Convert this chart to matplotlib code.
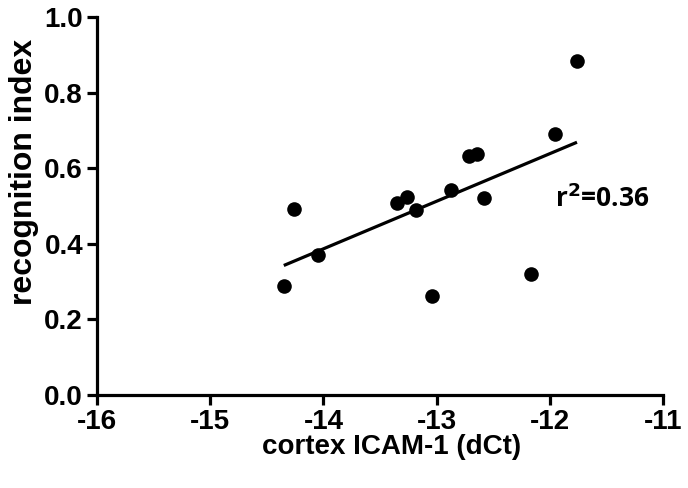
import numpy as np
import matplotlib.pyplot as plt

plt.rcParams['font.family'] = ['Liberation Sans', 'DejaVu Sans']
plt.rcParams['font.weight'] = 'bold'

# cortex ICAM-1 (dCt) vs recognition index
icam = [-14.35, -14.26, -14.05, -13.35, -13.26, -13.18, -13.04,
        -12.87, -12.71, -12.64, -12.58, -12.17, -11.95, -11.76]
recog = [0.288, 0.491, 0.370, 0.507, 0.523, 0.489, 0.262,
         0.542, 0.632, 0.639, 0.520, 0.319, 0.690, 0.884]
r2_text = "r$^{2}$=0.36"
xticks = [-16, -15, -14, -13, -12, -11]
yticks = [0.0, 0.2, 0.4, 0.6, 0.8, 1.0]

x = np.array(icam)
y = np.array(recog)
coef = np.polyfit(x, y, 1)
fit_fn = np.poly1d(coef)
xl = np.array([x.min(), x.max()])

fig = plt.figure(figsize=(6.88, 4.88), dpi=100)
ax = fig.add_axes([0.141, 0.1906, 0.8227, 0.7744])

ax.plot(xl, fit_fn(xl), '-k', lw=2.3, solid_capstyle='butt')
ax.plot(x, y, 'o', color='black', markersize=10.5, markeredgewidth=0)

ax.set_xlim(-16, -11)
ax.set_ylim(0, 1.0)
ax.set_xticks(xticks)
ax.set_yticks(yticks)
ax.set_xticklabels([str(t) for t in xticks])
ax.set_yticklabels(['%.1f' % t for t in yticks])

for s in ['top', 'right']:
    ax.spines[s].set_visible(False)
for s in ['left', 'bottom']:
    ax.spines[s].set_linewidth(2.3)
ax.tick_params(width=2.3, length=7, labelsize=20)
ax.tick_params(axis='x', pad=3)
ax.tick_params(axis='y', pad=3)

ax.set_xlabel('cortex ICAM-1 (dCt)', fontsize=20, fontweight='bold')
ax.set_ylabel('recognition index', fontsize=23, fontweight='bold')
ax.xaxis.set_label_coords(0.52, -0.102)
ax.yaxis.set_label_coords(-0.102, 0.59)

ax.text(-11.95, 0.52, r2_text, fontsize=19, fontweight='bold',
        family=['Open Sans', 'DejaVu Sans'], ha='left', va='center')

fig.savefig('out.png', dpi=100)
